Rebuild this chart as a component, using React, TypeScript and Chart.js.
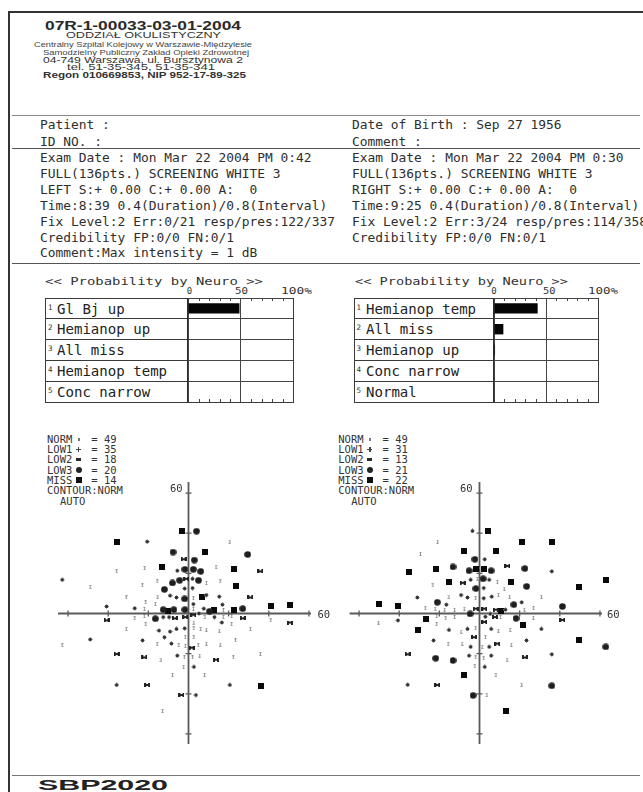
import React, { useEffect, useLayoutEffect, useRef } from 'react';
import { Chart, registerables } from 'chart.js';

Chart.register(...registerables);

const MONO = '"DejaVu Sans Mono", "Liberation Mono", monospace';
const SANS = '"Liberation Sans", Arial, sans-serif';

// ---------------- data ----------------
const neuroScaleLabels = ['0', '50', '100%'];
const neuroMinorTicks = [10, 20, 30, 40, 60, 70, 80, 90];

const leftNeuroCategories = ['Gl Bj up', 'Hemianop up', 'All miss', 'Hemianop temp', 'Conc narrow'];
const leftNeuroProbabilities = [49, 0, 0, 0, 0];
const rightNeuroCategories = ['Hemianop temp', 'All miss', 'Hemianop up', 'Conc narrow', 'Normal'];
const rightNeuroProbabilities = [42, 9, 1, 0, 0];

const symbolNames = ['NORM', 'LOW1', 'LOW2', 'LOW3', 'MISS'];
const leftSymbolCounts = [49, 35, 18, 20, 14];
const rightSymbolCounts = [49, 31, 13, 21, 22];

const fieldTicks = [-60, -40, -20, 20, 40, 60];
const fieldTickLabel = '60';

type P = [number, number];

const leftNORM: P[] = [
  [20.6, 35.8], [-21.8, 22.6], [-35.8, 21], [13.7, 23.2], [-49, 13.2], [-23, 14], [-15.6, 16], [8.9, 15.2],
  [15.8, 16], [-31, 8], [-21.3, 5.6], [-15.3, 8.4], [2.4, 7.6], [-22, 2.3], [-16.5, 4.8], [2.4, 2.3],
  [17.4, 1.6], [-26.8, -2.4], [-22, -1.3], [8.2, -1.8], [17.3, -1.8], [21.5, -1.3], [41, -3.4], [-31, -7.7],
  [-21.3, -5.3], [2.7, -4.5], [2.7, -7.4], [6.1, -7.7], [8.9, -8], [15.3, -8.5], [21.5, -5.3], [30.8, -7.7],
  [-62.9, -15.8], [-15.6, -15.3], [-4.8, -15.8], [-1.6, -11.8], [-1.6, -16.1], [2.7, -11.8], [4.8, -15.8],
  [8.9, -15], [15.8, -15.5], [23.4, -13.4], [-13.7, -23], [-2.1, -21.9], [2, -21.9], [5.6, -21], [22.3, -21.9],
  [35.8, -20.2], [-2.4, -26.6], [-8, -30.6], [8, -30.6], [-12.9, -48.5],
];
const leftLOW1: P[] = [
  [-20.6, 35.8], [-5.6, 21.3], [-62.9, 16.8], [2, 17.3], [-1.9, 12.4], [2, 12.7], [-9.2, 8.9], [-6, 8],
  [8.9, 9.2], [15.3, 8.4], [-40.8, 3.5], [-26.8, 2.6], [2.4, 4.7], [7.6, 2.4], [16.9, 4.4], [-12.6, -1.8],
  [-9.7, -1.8], [5.2, 0], [12.9, -1.8], [-14.7, -8.5], [-9.2, -9], [-6, -7.7], [-1.9, -7.4], [16.6, -4.5],
  [-49, -12.9], [-22.9, -13.4], [-12, -11.8], [-8.5, -15], [-5.6, -21], [2.7, -26.6], [-35.8, -35.6],
  [20.6, -35.6], [3.7, -40.6],
];
const leftLOW2: P[] = [
  [-2.4, 27], [35.8, 21], [-1.1, 17.3], [30.8, 8], [-40.8, -3.4], [-6.8, -2.4], [-1.6, -1.8], [2.4, -0.6],
  [27, -2.4], [50.5, -4.5], [1.6, -17], [-35.8, -20.2], [-22, -21.9], [13.7, -23], [-20.6, -35.6], [-3.5, -40.6],
];
const leftLOW3: P[] = [
  [4, 41], [-7.7, 30.6], [29.5, 29.4], [2.9, 26.6], [-1.8, 22], [2.4, 22], [6.1, 21], [-8, 15.2],
  [-4.4, 16.5], [5, 16.5], [-12, 12], [-1.9, 7.3], [-12.6, 1.9], [-7.3, 1.9], [-1.8, 1.9], [10.5, 1.1],
  [27, 2.4], [-16.5, -2.6],
];
const leftMISS: P[] = [
  [-3.2, 41], [-35.5, 35.8], [8.4, 30.6], [-13.2, 23], [22.6, 22], [23.7, 13.5], [6.5, 8], [-10, 1.1],
  [12.9, 1.9], [22.6, 1.9], [41, 3.5], [50.8, 4.4], [36, -36],
];

const rightNORM: P[] = [
  [-20.8, 35.8], [-29.4, 29.7], [-23.2, 14], [-1.1, 17.3], [8.9, 15.6], [12.3, 12.4], [-15.2, 8.4], [-1.9, 7.6],
  [9.4, 9.2], [15, 8.4], [30.8, 8.4], [-27, 2.7], [-22.1, 2.4], [-17.4, 1.9], [-12.4, 1.9], [-7.6, 2.4],
  [22.3, 1.9], [26.8, 2.7], [-50.3, -4.5], [-21.3, -1.3], [-16.8, -2.4], [-12.4, -1.8], [10.5, -1.8],
  [26.8, -2.1], [-21.3, -5.3], [-9.2, -9], [-1.9, -7.3], [9.4, -8.5], [15.2, -8.1], [-15.6, -15.3],
  [-8.7, -15], [1.3, -16.6], [2.9, -11.8], [15.8, -15.5], [-1.9, -21.9], [2.1, -22.3], [13.7, -23],
  [-2.3, -26.3], [8.2, -30.6], [21, -35.5], [3.7, -40.5],
];
const rightLOW1: P[] = [
  [-3.5, 41.1], [2.6, 27], [36, 21], [-4.4, 16.8], [4.8, 16.8], [2.1, 12.7], [-31, 8], [-9.2, 9.2],
  [-6, 8], [2.1, 7.6], [6.1, 8.4], [21, 5.6], [-16.5, 4.4], [12.9, 1.9], [-40.6, -3.4], [2.9, -1.6],
  [5.3, -0.2], [-15.2, -8.2], [-6, -7.7], [5.8, -7.7], [30.8, -7.7], [-22.9, -13.4], [-4.4, -16.6],
  [4.8, -16.6], [23.4, -13.4], [-5.2, -21], [5.8, -21], [36, -20.3], [2.6, -26.6], [-35.8, -35.5],
];
const rightLOW2: P[] = [
  [13.9, 23.7], [-8.4, 15.3], [-1.9, 2.4], [2.4, 2.4], [8.1, 1.9], [7.7, -1.8], [41.3, -3.2], [2.4, -4.2],
  [-2.7, -11.8], [8.9, -15], [-35.8, -20.3], [22.6, -21.9], [-21, -35.6],
];
const rightLOW3: P[] = [
  [-2.3, 27], [-13.2, 23.2], [-5.2, 21.3], [5.8, 21.3], [22.6, 22.4], [1.8, 17.3], [23.5, 13.5], [-1.8, 12.4],
  [-21, 5.6], [17.1, 4.4], [41.3, 3.5], [-4.7, -0.2], [18.2, -2.4], [62.9, -16.6], [-21.8, -22.3],
  [-13.2, -23.4], [36, -36], [-3.2, -40.8],
];
const rightMISS: P[] = [
  [4, 41], [21.1, 35.8], [36, 35.8], [-7.9, 31], [8.4, 31], [-35.3, 20.8], [-21.8, 22.4], [-1.6, 22],
  [2.4, 22], [62.9, 16.8], [49.4, 13.2], [-15.2, 15.6], [15.8, 15.6], [-50, 4.7], [-40.6, 3.5], [10.5, 1.1],
  [-26.5, -2.6], [-30.5, -8.1], [21.6, -5.5], [49.4, -13.1], [-7.9, -30.6], [13.4, -48.5],
];

// ---------------- helpers ----------------
type TProps = {
  x: number; y: number; size: number; text: string; w?: number; sx?: number;
  font?: string; weight?: number | string; color?: string;
};
function T({ x, y, size, text, w, sx, font = MONO, weight = 400, color = '#2e2e2e' }: TProps) {
  const ref = useRef<HTMLDivElement>(null);
  useLayoutEffect(() => {
    const el = ref.current;
    if (!el) return;
    if (w) {
      el.style.transform = 'none';
      const nat = el.getBoundingClientRect().width;
      if (nat > 0) el.style.transform = `scaleX(${w / nat})`;
    } else if (sx) {
      el.style.transform = `scaleX(${sx})`;
    }
  }, [w, sx, text]);
  return (
    <div
      ref={ref}
      style={{
        position: 'absolute', left: x, top: y - size / 2, fontSize: size, lineHeight: `${size}px`,
        fontFamily: font, fontWeight: weight as any, color, whiteSpace: 'pre', transformOrigin: '0 0',
      }}
    >
      {text}
    </div>
  );
}

function Line({ x, y, w, h, c }: { x: number; y: number; w: number; h: number; c: string }) {
  return <div style={{ position: 'absolute', left: x, top: y, width: w, height: h, background: c }} />;
}

function makeSprite(kind: string): HTMLCanvasElement {
  const c = document.createElement('canvas');
  const g = c.getContext('2d')!;
  if (kind === 'NORM') {
    c.width = 3; c.height = 4;
    g.fillStyle = 'rgba(90,90,90,0.6)'; g.fillRect(1, 0, 1, 4);
    g.fillStyle = 'rgba(90,90,90,0.3)'; g.fillRect(0, 0, 3, 1); g.fillRect(0, 3, 3, 1);
  } else if (kind === 'LOW1') {
    c.width = 5; c.height = 5;
    g.fillStyle = '#a0a0a0'; g.fillRect(0, 2, 5, 1); g.fillRect(2, 0, 1, 5);
    g.fillStyle = '#3a3a3a'; g.fillRect(1, 1, 3, 3);
    g.fillStyle = '#222'; g.fillRect(2, 2, 1, 1);
  } else if (kind === 'LOW2') {
    c.width = 6; c.height = 4;
    g.fillStyle = '#222'; g.fillRect(0, 0, 6, 4); g.clearRect(2, 0, 2, 1); g.clearRect(2, 3, 2, 1);
  } else if (kind === 'LOW3') {
    c.width = 7; c.height = 7;
    g.fillStyle = '#1e1e1e'; g.beginPath(); g.arc(3.5, 3.5, 3.3, 0, Math.PI * 2); g.fill();
  } else {
    c.width = 6; c.height = 6;
    g.fillStyle = '#0a0a0a'; g.fillRect(0, 0, 6, 6);
  }
  return c;
}

const crossAxes = {
  id: 'crossAxes',
  beforeDatasetsDraw(chart: any, _a: any, o: any) {
    const { ctx, scales: { x, y } } = chart;
    const x0 = x.getPixelForValue(0);
    const y0 = y.getPixelForValue(0);
    ctx.save();
    ctx.strokeStyle = '#5a5a5a';
    ctx.lineWidth = 1.8;
    ctx.beginPath();
    ctx.moveTo(x.getPixelForValue(o.xMin), y0); ctx.lineTo(x.getPixelForValue(o.xMax), y0);
    ctx.moveTo(x0, y.getPixelForValue(o.yMin)); ctx.lineTo(x0, y.getPixelForValue(o.yMax));
    ctx.stroke();
    ctx.lineWidth = 1.3;
    ctx.beginPath();
    for (const t of o.ticks) {
      const px = x.getPixelForValue(t);
      ctx.moveTo(px, y0 - 3); ctx.lineTo(px, y0 + 3);
      const py = y.getPixelForValue(t);
      ctx.moveTo(x0 - 3, py); ctx.lineTo(x0 + 3, py);
    }
    ctx.stroke();
    ctx.restore();
  },
};

const minorTicks = {
  id: 'minorTicks',
  afterDatasetsDraw(chart: any, _a: any, o: any) {
    const { ctx, chartArea: a, scales: { x } } = chart;
    ctx.save();
    ctx.strokeStyle = '#444';
    ctx.lineWidth = 1;
    ctx.beginPath();
    for (const v of o.values) {
      const px = Math.round(x.getPixelForValue(v)) + 0.5;
      ctx.moveTo(px, a.top); ctx.lineTo(px, a.top + 3);
      ctx.moveTo(px, a.bottom); ctx.lineTo(px, a.bottom - 3);
    }
    ctx.stroke();
    ctx.restore();
  },
};

function ChartBox({ left, top, width, height, make }: { left: number; top: number; width: number; height: number; make: () => any }) {
  const ref = useRef<HTMLCanvasElement>(null);
  useEffect(() => {
    const chart = new Chart(ref.current!, make());
    return () => chart.destroy();
  }, []);
  return <canvas ref={ref} width={width} height={height} style={{ position: 'absolute', left, top, width, height }} />;
}

function barConfig(labels: string[], values: number[]) {
  return {
    type: 'bar',
    data: {
      labels,
      datasets: [{ data: values, backgroundColor: '#050505', borderWidth: 0, barPercentage: 0.5, categoryPercentage: 1 }],
    },
    options: {
      indexAxis: 'y', animation: false, responsive: false, events: [],
      layout: { padding: 0 },
      plugins: { legend: { display: false }, tooltip: { enabled: false }, minorTicks: { values: neuroMinorTicks } },
      scales: {
        x: { min: 0, max: 100, ticks: { display: false, stepSize: 50 }, grid: { drawTicks: false, color: '#444' }, border: { display: false } },
        y: { ticks: { display: false }, grid: { drawTicks: false, color: '#444', offset: true }, border: { display: false } },
      },
    },
    plugins: [minorTicks],
  };
}

function scatterConfig(groups: P[][], axis: any) {
  const sprites = symbolNames.map(makeSprite);
  return {
    type: 'scatter',
    data: {
      datasets: groups.map((pts, i) => ({
        label: symbolNames[i],
        data: pts.map(([x, y]) => ({ x, y })),
        pointStyle: sprites[i], pointRadius: 3, pointHoverRadius: 3,
      })),
    },
    options: {
      animation: false, responsive: false, events: [],
      layout: { padding: 0 },
      plugins: { legend: { display: false }, tooltip: { enabled: false }, crossAxes: { ...axis, ticks: fieldTicks } },
      scales: {
        x: { type: 'linear', min: -66, max: 66, display: false },
        y: { type: 'linear', min: -66, max: 66, display: false },
      },
    },
    plugins: [crossAxes],
  };
}

function NeuroTable(props: {
  x: number; y: number; labelW: number; barW: number; h: number; labels: string[]; values: number[];
  numX: number; textX: number;
}) {
  const { x, y, labelW, barW, h, labels, values, numX, textX } = props;
  const rowH = h / labels.length;
  return (
    <>
      <div style={{ position: 'absolute', left: x, top: y, width: labelW + barW + 1, height: h + 1, border: '1px solid #3a3a3a', boxSizing: 'border-box' }} />
      {labels.map((_, i) => (i > 0 ? <Line key={'r' + i} x={x} y={y + Math.round(i * rowH - 0.5)} w={labelW} h={1} c="#3a3a3a" /> : null))}
      <Line x={x + labelW - 1} y={y} w={2} h={h} c="#2a2a2a" />
      {labels.map((lab, i) => (
        <React.Fragment key={'t' + i}>
          <T x={numX} y={y + (i + 0.5) * rowH - 1} size={7.5} text={String(i + 1)} color="#333" />
          <T x={textX} y={y + (i + 0.5) * rowH + 0.5} size={14.5} sx={0.97} text={lab} color="#222" />
        </React.Fragment>
      ))}
      <ChartBox left={x + labelW} top={y} width={barW} height={h} make={() => barConfig(labels, values)} />
    </>
  );
}

function Legend({ x, counts }: { x: number; counts: number[] }) {
  const ys = [439, 449.3, 459.6, 470, 480.3];
  const cw = 6.32;
  const sym = (i: number, cy: number) => {
    const cx = x + 5 * cw;
    const base: any = { position: 'absolute' };
    if (i === 0) return <div style={{ ...base, left: cx - 0.5, top: cy - 1.5, width: 1.5, height: 3, background: '#777' }} />;
    if (i === 1) return (
      <>
        <div style={{ ...base, left: cx - 2.5, top: cy - 0.5, width: 5, height: 1.2, background: '#444' }} />
        <div style={{ ...base, left: cx - 0.5, top: cy - 2.5, width: 1.2, height: 5, background: '#444' }} />
      </>
    );
    if (i === 2) return <div style={{ ...base, left: cx - 2.5, top: cy - 1.5, width: 5, height: 3, background: '#2a2a2a' }} />;
    if (i === 3) return <div style={{ ...base, left: cx - 3, top: cy - 3, width: 6, height: 6, background: '#222', borderRadius: '50%' }} />;
    return <div style={{ ...base, left: cx - 3, top: cy - 3, width: 6, height: 6, background: '#111' }} />;
  };
  return (
    <>
      {symbolNames.map((n, i) => (
        <React.Fragment key={n}>
          <T x={x} y={ys[i]} size={10.5} text={`${n}   = ${counts[i]}`} color="#333" />
          {sym(i, ys[i])}
        </React.Fragment>
      ))}
      <T x={x} y={490.7} size={10.5} text="CONTOUR:NORM" color="#333" />
      <T x={x + 13} y={501} size={10.5} text="AUTO" color="#333" />
    </>
  );
}

export default function App() {
  useEffect(() => {
    document.body.style.margin = '0';
  }, []);
  const L = 40;
  const R = 352;
  const fs = 12.9;
  const rows = [158.3, 174.3, 190.2, 206.6, 222.4, 238.3, 253.3];
  const leftInfo = [
    'Exam Date : Mon Mar 22 2004 PM 0:42',
    'FULL(136pts.) SCREENING WHITE 3',
    'LEFT S:+ 0.00 C:+ 0.00 A:  0',
    'Time:8:39 0.4(Duration)/0.8(Interval)',
    'Fix Level:2 Err:0/21 resp/pres:122/337',
    'Credibility FP:0/0 FN:0/1',
    'Comment:Max intensity = 1 dB',
  ];
  const rightInfo = [
    'Exam Date : Mon Mar 22 2004 PM 0:30',
    'FULL(136pts.) SCREENING WHITE 3',
    'RIGHT S:+ 0.00 C:+ 0.00 A:  0',
    'Time:9:25 0.4(Duration)/0.8(Interval)',
    'Fix Level:2 Err:3/24 resp/pres:114/358',
    'Credibility FP:0/0 FN:0/1',
  ];
  return (
    <div style={{ position: 'absolute', left: 0, top: 0, width: 643, height: 792, overflow: 'hidden', background: '#fff' }}>
      {/* page frame */}
      <Line x={8} y={11} w={2} h={781} c="#333" />
      <Line x={8} y={11} w={635} h={2} c="#333" />

      {/* stamp */}
      <T x={45} y={25} size={13} w={196} text="07R-1-00033-03-01-2004" font={SANS} weight={700} color="#2a2a2a" />
      <T x={66} y={34.5} size={9.5} w={155} text="ODDZIAŁ OKULISTYCZNY" font={SANS} color="#333" />
      <T x={34} y={45} size={7.5} w={218} text="Centralny Szpital Kolejowy w Warszawie-Międzylesie" font={SANS} color="#444" />
      <T x={43} y={52.4} size={7.5} w={206} text="Samodzielny Publiczny Zakład Opieki Zdrowotnej" font={SANS} color="#444" />
      <T x={43} y={60} size={9.5} w={200} text="04-749 Warszawa, ul. Bursztynowa 2" font={SANS} color="#333" />
      <T x={67} y={67.8} size={9} w={148} text="tel. 51-35-345, 51-35-341" font={SANS} color="#333" />
      <T x={43} y={75.3} size={9} w={203} text="Regon 010669853, NIP 952-17-89-325" font={SANS} weight={700} color="#333" />

      {/* patient block */}
      <Line x={12} y={115} w={628} h={1} c="#8a8a8a" />
      <T x={L} y={125.8} size={fs} text="Patient :" />
      <T x={L} y={142.2} size={fs} text="ID NO. :" />
      <T x={R} y={125.8} size={fs} text="Date of Birth : Sep 27 1956" />
      <T x={R} y={142.2} size={fs} text="Comment :" />
      <Line x={12} y={148} w={628} h={1} c="#555" />
      {leftInfo.map((s, i) => <T key={'li' + i} x={L} y={rows[i]} size={fs} text={s} />)}
      {rightInfo.map((s, i) => <T key={'ri' + i} x={R} y={rows[i]} size={fs} text={s} />)}
      <Line x={12} y={263} w={628} h={1} c="#555" />

      {/* neuro probability tables */}
      <T x={45} y={281.8} size={10} w={218} text="<< Probability by Neuro >>" color="#333" />
      <T x={186.8} y={291} size={9} text={neuroScaleLabels[0]} color="#333" />
      <T x={235.3} y={291} size={9} w={13} text={neuroScaleLabels[1]} color="#333" />
      <T x={281} y={291} size={9} w={31} text={neuroScaleLabels[2]} color="#333" />
      <NeuroTable x={45} y={298} labelW={143} barW={105} h={104} labels={leftNeuroCategories} values={leftNeuroProbabilities} numX={48} textX={57} />

      <T x={355} y={281.8} size={10} w={213} text="<< Probability by Neuro >>" color="#333" />
      <T x={491.3} y={291} size={9} text={neuroScaleLabels[0]} color="#333" />
      <T x={543} y={291} size={9} w={12.5} text={neuroScaleLabels[1]} color="#333" />
      <T x={588} y={291} size={9} w={30} text={neuroScaleLabels[2]} color="#333" />
      <NeuroTable x={354} y={298} labelW={140} barW={104} h={104} labels={rightNeuroCategories} values={rightNeuroProbabilities} numX={356.5} textX={366} />

      {/* legends */}
      <Legend x={47} counts={leftSymbolCounts} />
      <Legend x={338.3} counts={rightSymbolCounts} />

      {/* visual fields */}
      <ChartBox left={52} top={477} width={273} height={273}
        make={() => scatterConfig([leftNORM, leftLOW1, leftLOW2, leftLOW3, leftMISS], { xMin: -65, xMax: 61, yMin: -65, yMax: 65.5 })} />
      <T x={170} y={488.5} size={10.5} text={fieldTickLabel} color="#333" />
      <T x={317.5} y={614} size={10.5} text={fieldTickLabel} color="#333" />

      <ChartBox left={342.5} top={477} width={273} height={273}
        make={() => scatterConfig([rightNORM, rightLOW1, rightLOW2, rightLOW3, rightMISS], { xMin: -64.7, xMax: 61, yMin: -65, yMax: 65.5 })} />
      <T x={460} y={488.5} size={10.5} text={fieldTickLabel} color="#333" />
      <T x={607} y={614} size={10.5} text={fieldTickLabel} color="#333" />

      {/* footer */}
      <Line x={12} y={775} w={628} h={1} c="#777" />
      <T x={38} y={785} size={14} w={130} text="SBP2020" font={SANS} weight={700} color="#222" />
    </div>
  );
}
